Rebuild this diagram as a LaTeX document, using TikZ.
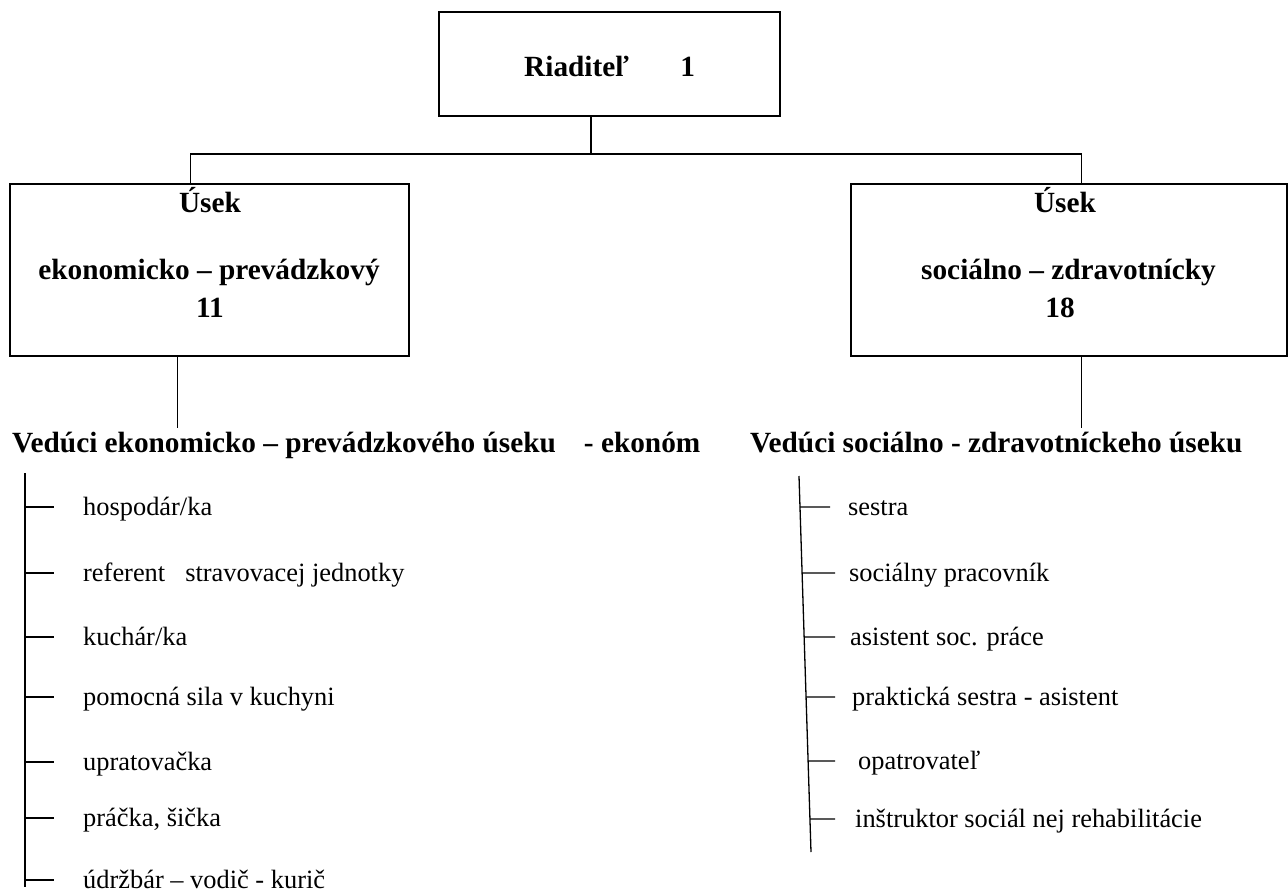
\documentclass[tikz,border=0pt]{standalone}
\usepackage{fontspec}
\setmainfont{Liberation Serif}
\usetikzlibrary{calc}
\begin{document}
\begin{tikzpicture}[x=1pt,y=-1pt,
  box/.style={draw, line width=1.6pt, inner sep=0pt},
  conn/.style={line width=1.3pt},
  btext/.style={inner sep=0pt, font=\fontsize{29.3}{32}\selectfont\bfseries},
  itext/.style={inner sep=0pt, anchor=base west, font=\fontsize{26.4}{30}\selectfont},
]
\useasboundingbox (0,0) rectangle (1288,891);
\fill[white] (0,0) rectangle (1288,891);

% boxes
\node[box, minimum width=341pt, minimum height=104pt] (top) at (609.5,64) {};
\node[box, minimum width=399pt, minimum height=172pt] (lbox) at (209.5,270) {};
\node[box, minimum width=436pt, minimum height=172pt] (rbox) at (1069,270) {};

% box texts
\node[btext, anchor=base west] (rtitle) at (524,77) {Riaditeľ};
\node[btext, anchor=base] (rnum) at (687.6,77) {1};
\node[btext, anchor=base] (lu) at (210,212) {Úsek};
\node[btext, anchor=base] (ln) at (209,279) {ekonomicko – prevádzkový};
\node[btext, anchor=base] (lc) at (210,317) {11};
\node[btext, anchor=base] (ru) at (1065,212) {Úsek};
\node[btext, anchor=base] (rn) at (1068.5,279) {sociálno – zdravotnícky};
\node[btext, anchor=base] (rc) at (1060,317) {18};

% bus
\coordinate (busM) at (591,154);
\coordinate (busL) at (190.7,154);
\coordinate (busR) at (1081.5,154);
\coordinate (lx) at (177.4,0);
\draw[conn] (busM |- top.south) -- (busM);
\draw[conn] (busL |- lbox.north) -- (busL) -- (busR) -- (busR |- rbox.north);

% heads
\node[btext, anchor=base west] (lhead) at (12,452) {Vedúci ekonomicko – prevádzkového úseku\hspace{28pt}- ekonóm};
\node[btext, anchor=base west] (rhead) at (750,452) {Vedúci sociálno - zdravotníckeho úseku};
\draw[conn] (lbox.south -| lx) -- (lx |- 0,428);
\draw[conn] (rbox.south -| busR) -- (busR |- 0,428);

% left list
\coordinate (ltop) at (25,473);
\coordinate (lbot) at (25,887);
\draw[conn] (ltop) -- (lbot);
\node[itext] (l1) at (83,515) {hospodár/ka};
\node[itext] (l2) at (83,581) {referent\hspace{20pt}stravovacej jednotky};
\node[itext] (l3) at (83,645) {kuchár/ka};
\node[itext] (l4) at (83,705) {pomocná sila v kuchyni};
\node[itext] (l5) at (83,770) {upratovačka};
\node[itext] (l6) at (83,826) {práčka, šička};
\node[itext] (l7) at (83,888) {údržbár – vodič - kurič};
\foreach \n in {l1,l2,l3,l4,l5,l6,l7}
  \draw[conn] ($(\n.base west)+(-58,-8)$) -- ++(29,0);

% right list
\coordinate (rtop) at (799,476);
\coordinate (rbot) at (811,852);
\draw[conn] (rtop) -- (rbot);
\node[itext] (r1) at (848,515) {sestra};
\node[itext] (r2) at (849,581) {sociálny pracovník};
\node[itext] (r3) at (850,645) {asistent soc. práce};
\node[itext] (r4) at (852,705) {praktická sestra - asistent};
\node[itext] (r5) at (858,769) {opatrovateľ};
\node[itext] (r6) at (855,827) {inštruktor sociál nej rehabilitácie};
\draw[conn] ($(rtop)!0.0824!(rbot)$) -- ($(r1.base west)+(-18,-8)$);
\draw[conn] ($(rtop)!0.258!(rbot)$) -- ($(r2.base west)+(-14,-8)$);
\draw[conn] ($(rtop)!0.428!(rbot)$) -- ($(r3.base west)+(-15,-8)$);
\draw[conn] ($(rtop)!0.588!(rbot)$) -- ($(r4.base west)+(-17,-8)$);
\draw[conn] ($(rtop)!0.758!(rbot)$) -- ($(r5.base west)+(-23,-8)$);
\draw[conn] ($(rtop)!0.912!(rbot)$) -- ($(r6.base west)+(-20,-8)$);
\end{tikzpicture}
\end{document}
